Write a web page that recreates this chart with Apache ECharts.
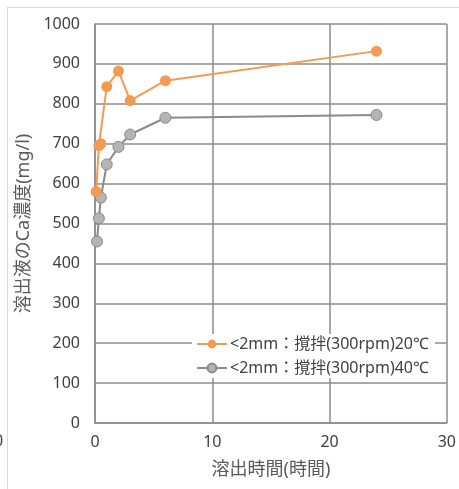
<!DOCTYPE html>
<html>
<head>
<meta charset="utf-8">
<script src="https://cdn.jsdelivr.net/npm/echarts@6/dist/echarts.min.js"></script>
<style>html,body{margin:0;padding:0;background:#fff}#c{width:459px;height:489px}</style>
</head>
<body>
<div id="c"></div>
<script>
var hours20 = [0.1, 0.33, 0.5, 1, 2, 3, 6, 24];
var conc20 = [580, 695, 700, 843, 882, 808, 858, 932];
var hours40 = [0.17, 0.33, 0.5, 1, 2, 3, 6, 24];
var conc40 = [455, 513, 565, 648, 692, 723, 765, 772];
var seriesNames = ['<2mm：撹拌(300rpm)20℃', '<2mm：撹拌(300rpm)40℃'];
var xTitle = '溶出時間(時間)';
var yTitle = '溶出液のCa濃度(mg/l)';

function pairs(xs, ys) { return xs.map(function (x, i) { return [x, ys[i]]; }); }

var font = "'Noto Sans', 'Noto Sans CJK JP', sans-serif";
var chart = echarts.init(document.getElementById('c'), null, { renderer: 'canvas' });
chart.setOption({
  animation: false,
  backgroundColor: '#fff',
  textStyle: { fontFamily: font },
  graphic: [
    { type: 'line', shape: { x1: 7, y1: 7.5, x2: 459, y2: 7.5 }, style: { stroke: '#d9d9d9', lineWidth: 1 } },
    { type: 'line', shape: { x1: 7.5, y1: 7, x2: 7.5, y2: 489 }, style: { stroke: '#d9d9d9', lineWidth: 1 } },
    { type: 'text', left: -6, top: 433, style: { text: '0', font: '16px ' + font, fill: '#404040' } }
  ],
  grid: { left: 95, right: 10, top: 24, bottom: 66, show: false },
  legend: {
    orient: 'vertical',
    left: 192, top: 334,
    backgroundColor: '#fff',
    padding: [2, 6, 2, 4],
    itemWidth: 30, itemHeight: 11, itemGap: 8,
    textStyle: { fontSize: 16, color: '#404040', fontFamily: font, padding: [0, 0, 0, -2] },
    data: seriesNames
  },
  xAxis: {
    type: 'value', min: 0, max: 30, interval: 10,
    name: xTitle, nameLocation: 'middle', nameGap: 38,
    nameTextStyle: { fontSize: 18, color: '#595959', fontFamily: font },
    axisLine: { show: true, lineStyle: { color: '#8c8c8c', width: 1.5 } },
    axisTick: { show: false },
    axisLabel: { fontSize: 16, color: '#404040', margin: 11 },
    splitLine: { show: true, lineStyle: { color: '#8c8c8c', width: 1.5 } }
  },
  yAxis: {
    type: 'value', min: 0, max: 1000, interval: 100,
    name: yTitle, nameLocation: 'middle', nameGap: 61, nameRotate: 90,
    nameTextStyle: { fontSize: 18, color: '#595959', fontFamily: font },
    axisLine: { show: true, lineStyle: { color: '#8c8c8c', width: 1.5 } },
    axisTick: { show: false },
    axisLabel: { fontSize: 16, color: '#404040', margin: 15, formatter: function (v) { return String(v); } },
    splitLine: { show: true, lineStyle: { color: '#8c8c8c', width: 1.5 } }
  },
  series: [
    {
      name: seriesNames[0], type: 'line', data: pairs(hours20, conc20),
      symbol: 'circle', symbolSize: 11,
      lineStyle: { color: '#F59A52', width: 2 },
      itemStyle: { color: '#F59A52', borderColor: '#F59A52', borderWidth: 0 },
      z: 3
    },
    {
      name: seriesNames[1], type: 'line', data: pairs(hours40, conc40),
      symbol: 'circle', symbolSize: 11,
      lineStyle: { color: '#8a8a8a', width: 2 },
      itemStyle: { color: '#b4b4b4', borderColor: '#8a8a8a', borderWidth: 1 },
      z: 2
    }
  ]
});
</script>
</body>
</html>
